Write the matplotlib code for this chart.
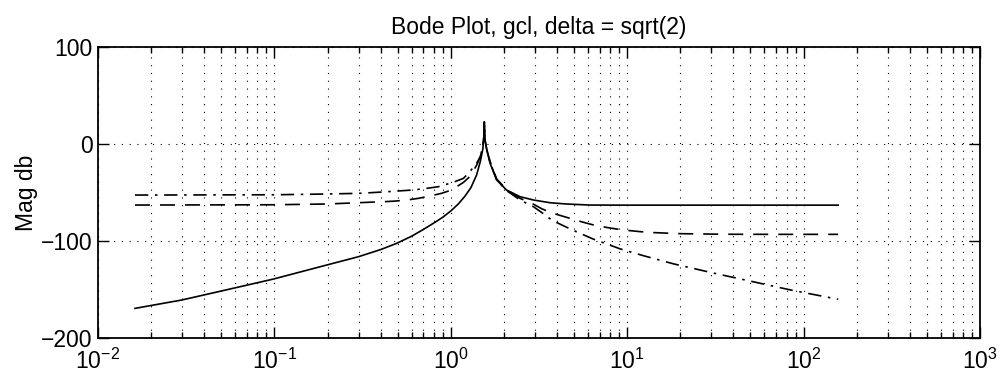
import matplotlib
matplotlib.use("Agg")
import matplotlib.pyplot as plt
from matplotlib.ticker import LogLocator, NullFormatter

plt.rcParams['font.family'] = ['Liberation Sans', 'DejaVu Sans']
plt.rcParams['mathtext.fontset'] = 'custom'
plt.rcParams['mathtext.rm'] = 'Liberation Sans'
plt.rcParams['mathtext.it'] = 'Liberation Sans:italic'

title_text = "Bode Plot, gcl, delta = sqrt(2)"
ylabel_text = "Mag db"

# Solid curve
w_solid = [0.0162, 0.0298, 0.05, 0.0986, 0.198, 0.299, 0.4, 0.493, 0.6, 0.7, 0.8, 0.9,
           1.0, 1.1, 1.2, 1.3, 1.4, 1.47, 1.52, 1.54, 1.549, 1.56, 1.6, 1.67, 1.82,
           2.07, 2.47, 2.94, 3.65, 4.5, 6.15, 10.0, 30.0, 100.0, 157.0]
m_solid = [-169.4, -160.8, -151.5, -139.2, -124.7, -116.2, -108.8, -102.4, -95.0, -88.0, -81.5, -75.5,
           -69.0, -62.0, -54.0, -45.0, -32.0, -18.0, -5.0, 8.0, 23.0, 5.0, -6.2, -19.9, -37.1,
           -47.4, -54.3, -57.7, -60.5, -61.8, -62.9, -63.0, -63.0, -63.0, -63.0]

# Dashed curve
w_dash = [0.0162, 0.1, 0.2, 0.348, 0.414, 0.484, 0.566, 0.655, 0.76, 0.887, 1.01, 1.18,
          1.28, 1.4, 1.48, 1.52, 1.54, 1.549, 1.56, 1.6, 1.67, 1.82, 2.07, 2.47, 2.94, 3.3,
          3.81, 4.74, 5.6, 6.4, 7.65, 8.7, 9.9, 11.8, 14.1, 20.0, 35.0, 68.0, 135.0, 157.0]
m_dash = [-62.9, -62.6, -61.8, -60.0, -59.5, -58.8, -57.7, -56.0, -53.6, -50.8, -47.4, -39.5,
          -33.7, -22.0, -12.0, -2.0, 8.0, 22.0, 5.0, -6.0, -18.0, -36.0, -47.0, -56.0, -62.0, -67.0,
          -71.5, -76.6, -80.5, -83.3, -86.0, -87.6, -88.9, -90.3, -91.3, -92.4, -93.0, -93.1, -93.1, -93.1]

# Dash-dot curve
w_dd = [0.0162, 0.1, 0.2, 0.305, 0.434, 0.493, 0.61, 0.73, 0.85, 1.03, 1.18, 1.28, 1.4,
        1.47, 1.52, 1.54, 1.549, 1.56, 1.6, 1.67, 1.82, 2.07, 2.47, 2.94, 3.42, 3.65, 3.9,
        4.44, 5.16, 6.43, 9.1, 12.3, 18.3, 30.8, 51.9, 87.3, 157.0]
m_dd = [-52.6, -52.3, -51.5, -50.8, -49.2, -48.5, -47.4, -45.7, -44.0, -39.5, -35.4, -28.6, -20.0,
        -13.0, -2.0, 8.0, 22.0, 5.0, -6.0, -19.0, -37.0, -48.0, -57.7, -64.6, -73.0, -77.0, -80.1,
        -85.0, -90.5, -98.0, -108.0, -115.0, -123.5, -133.0, -142.0, -151.0, -160.0]

fig = plt.figure(figsize=(10.0, 3.79), dpi=100)
ax = fig.add_axes([0.098, 0.108, 0.882, 0.768])

ax.plot(w_solid, m_solid, color='black', lw=1.2, ls='-')
l2, = ax.plot(w_dash, m_dash, color='black', lw=1.2)
l2.set_dashes([9, 6])
l3, = ax.plot(w_dd, m_dd, color='black', lw=1.2)
l3.set_dashes([8, 4, 1.5, 4])

ax.set_xscale('log')
ax.set_xlim(1e-2, 1e3)
ax.set_ylim(-200, 100)
ax.set_yticks([-200, -100, 0, 100])
ax.set_yticklabels(['\u2212200', '\u2212100', '0', '100'])
ax.xaxis.set_major_locator(LogLocator(base=10, numticks=10))
ax.xaxis.set_minor_locator(LogLocator(base=10, subs=range(2, 10), numticks=50))
ax.xaxis.set_minor_formatter(NullFormatter())

ax.grid(True, which='major', axis='both', color='black', lw=0.8, ls=(0, (1, 6)))
ax.grid(True, which='minor', axis='x', color='black', lw=0.8, ls=(0, (1, 6)))

ax.tick_params(which='both', direction='in', top=True, right=True, labelsize=16.5, width=1.0, color='black')
ax.tick_params(which='major', length=8)
ax.tick_params(which='minor', length=4)
ax.tick_params(axis='x', pad=8)
ax.tick_params(axis='y', pad=4)
for s in ax.spines.values():
    s.set_linewidth(1.3)

ax.set_title(title_text, fontsize=16.5, pad=9)
ax.set_ylabel(ylabel_text, fontsize=16.5, labelpad=2)

fig.savefig('out.png', dpi=100)
